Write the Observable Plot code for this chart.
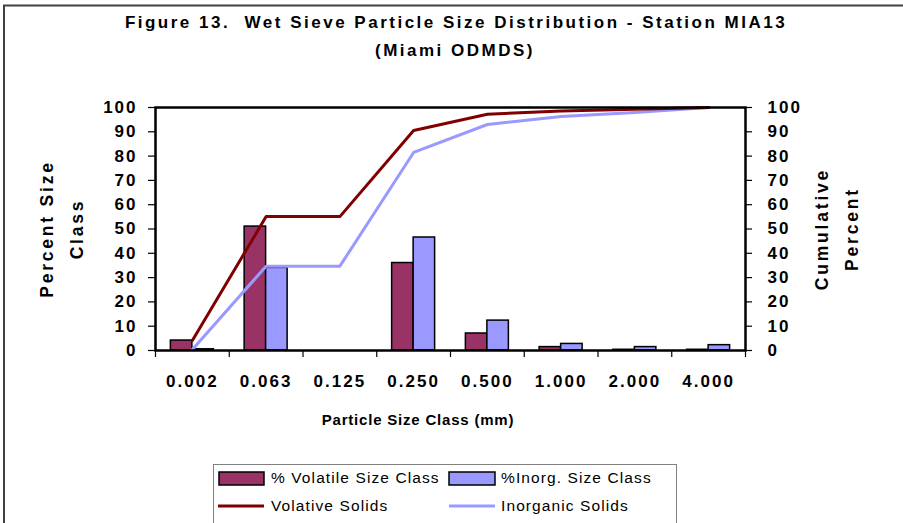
<!DOCTYPE html>
<html>
<head>
<meta charset="utf-8">
<script src="https://cdn.jsdelivr.net/npm/d3@7"></script>
<script src="https://cdn.jsdelivr.net/npm/@observablehq/plot@0.6"></script>
<style>
  html, body { margin: 0; padding: 0; background: #fff; }
  #chart svg { display: block; }
  #chart svg text { font-family: "Liberation Sans", Arial, sans-serif; }
  .num { letter-spacing: 2px; }
</style>
</head>
<body>
<div id="chart"></div>
<script>
const categories = ["0.002", "0.063", "0.125", "0.250", "0.500", "1.000", "2.000", "4.000"];
const volatilePct = [4.1, 51, 0, 36, 7, 1.4, 0.3, 0.3];
const inorganicPct = [0.5, 34, 0, 46.5, 12.3, 2.7, 1.4, 2.2];
const volatileCum = [4.1, 55.1, 55.1, 90.5, 97.2, 98.6, 99.3, 100];
const inorganicCum = [0.4, 34.7, 34.7, 81.5, 93, 96.3, 97.9, 100];
const yTicks = [0, 10, 20, 30, 40, 50, 60, 70, 80, 90, 100];

const rows = categories.map((c, i) => ({
  cat: c, i0: i, i1: i + 1, mid: i + 0.5,
  vol: volatilePct[i], inorg: inorganicPct[i],
  volCum: volatileCum[i], inorgCum: inorganicCum[i]
}));
const bounds = d3.range(categories.length + 1);

const W = 903, H = 523;
const band = (W - 155 - 158) / categories.length;

const plot = Plot.plot({
  width: W,
  height: H,
  marginLeft: 155,
  marginRight: 158,
  marginTop: 107,
  marginBottom: 173,
  x: { domain: [0, categories.length], axis: null },
  y: { domain: [0, 100], axis: null },
  style: { fontFamily: "Liberation Sans, Arial, sans-serif", background: "#fff", overflow: "visible" },
  marks: [
    Plot.rect(rows, { x1: "i0", x2: "i1", y1: () => 0, y2: "vol", insetLeft: band / 2 - 21.5, insetRight: band / 2, fill: "#993366", stroke: "#000", strokeWidth: 1.5 }),
    Plot.rect(rows, { x1: "i0", x2: "i1", y1: () => 0, y2: "inorg", insetLeft: band / 2, insetRight: band / 2 - 21.5, fill: "#9999FF", stroke: "#000", strokeWidth: 1.5 }),
    Plot.line(rows, { x: "mid", y: "inorgCum", stroke: "#9999FF", strokeWidth: 3 }),
    Plot.line(rows, { x: "mid", y: "volCum", stroke: "#800000", strokeWidth: 3 }),
    Plot.frame({ stroke: "#000", strokeWidth: 2.5 }),
    Plot.ruleY(yTicks, { y: d => d, x1: () => 0, x2: () => 0, insetLeft: -7, stroke: "#000", strokeWidth: 1.2 }),
    Plot.ruleY(yTicks, { y: d => d, x1: () => categories.length, x2: () => categories.length, insetRight: -7, stroke: "#000", strokeWidth: 1.2 }),
    Plot.ruleX(bounds, { x: d => d, y1: () => 0, y2: () => 0, insetBottom: -7, stroke: "#000", strokeWidth: 1.2 }),
    Plot.text(yTicks, { x: () => 0, y: d => d, text: d => String(d), textAnchor: "end", dx: -18, fontSize: 17, fontWeight: "bold", fill: "#000" }),
    Plot.text(yTicks, { x: () => categories.length, y: d => d, text: d => String(d), textAnchor: "start", dx: 22, fontSize: 17, fontWeight: "bold", fill: "#000" }),
    Plot.text(rows, { x: "mid", y: () => 0, text: "cat", dy: 31, fontSize: 17, fontWeight: "bold", fill: "#000" })
  ]
});

document.getElementById("chart").appendChild(plot);
const svg = d3.select(plot);
svg.selectAll("text").classed("num", true);

svg.append("path").attr("d", `M4,${H} L4,5.5 L${W},5.5`).attr("fill", "none").attr("stroke", "#404040").attr("stroke-width", 2);

function label(x, y, txt, size, weight, spacing, rotate, anchor) {
  const t = svg.append("text")
    .attr("x", x).attr("y", y)
    .attr("text-anchor", anchor || "middle")
    .attr("dominant-baseline", "central")
    .attr("font-size", size)
    .attr("font-weight", weight)
    .attr("fill", "#000")
    .style("letter-spacing", spacing + "px")
    .style("font-family", "Liberation Sans, Arial, sans-serif")
    .text(txt);
  if (rotate) t.attr("transform", `rotate(-90,${x},${y})`);
  return t;
}

label(456, 22, "Figure 13.  Wet Sieve Particle Size Distribution - Station MIA13", 17, "bold", 2.5).style("white-space", "pre");
label(455, 50, "(Miami ODMDS)", 17, "bold", 2.5);
label(47, 229, "Percent Size", 17.5, "bold", 2.8, true);
label(77, 229, "Class", 17.5, "bold", 2.8, true);
label(822, 229, "Cumulative", 17.5, "bold", 2.8, true);
label(852, 229, "Percent", 17.5, "bold", 2.8, true);
label(418, 419, "Particle Size Class (mm)", 15, "bold", 0.8);

const lg = svg.append("g");
lg.append("rect").attr("x", 213.5).attr("y", 464.5).attr("width", 463).attr("height", 80).attr("fill", "#fff").attr("stroke", "#808080").attr("stroke-width", 1);
lg.append("rect").attr("x", 219).attr("y", 472).attr("width", 45).attr("height", 13).attr("fill", "#993366").attr("stroke", "#000").attr("stroke-width", 1.5);
lg.append("rect").attr("x", 449).attr("y", 472).attr("width", 46).attr("height", 13).attr("fill", "#9999FF").attr("stroke", "#000").attr("stroke-width", 1.5);
lg.append("line").attr("x1", 218).attr("x2", 264).attr("y1", 506).attr("y2", 506).attr("stroke", "#800000").attr("stroke-width", 3);
lg.append("line").attr("x1", 449).attr("x2", 495).attr("y1", 506).attr("y2", 506).attr("stroke", "#9999FF").attr("stroke-width", 3);
label(271, 477, "% Volatile Size Class", 15.5, "normal", 1.1, false, "start");
label(501, 477, "%Inorg. Size Class", 15.5, "normal", 1.1, false, "start");
label(271, 505, "Volative Solids", 15.5, "normal", 1.1, false, "start");
label(501, 505, "Inorganic Solids", 15.5, "normal", 1.1, false, "start");
</script>
</body>
</html>
